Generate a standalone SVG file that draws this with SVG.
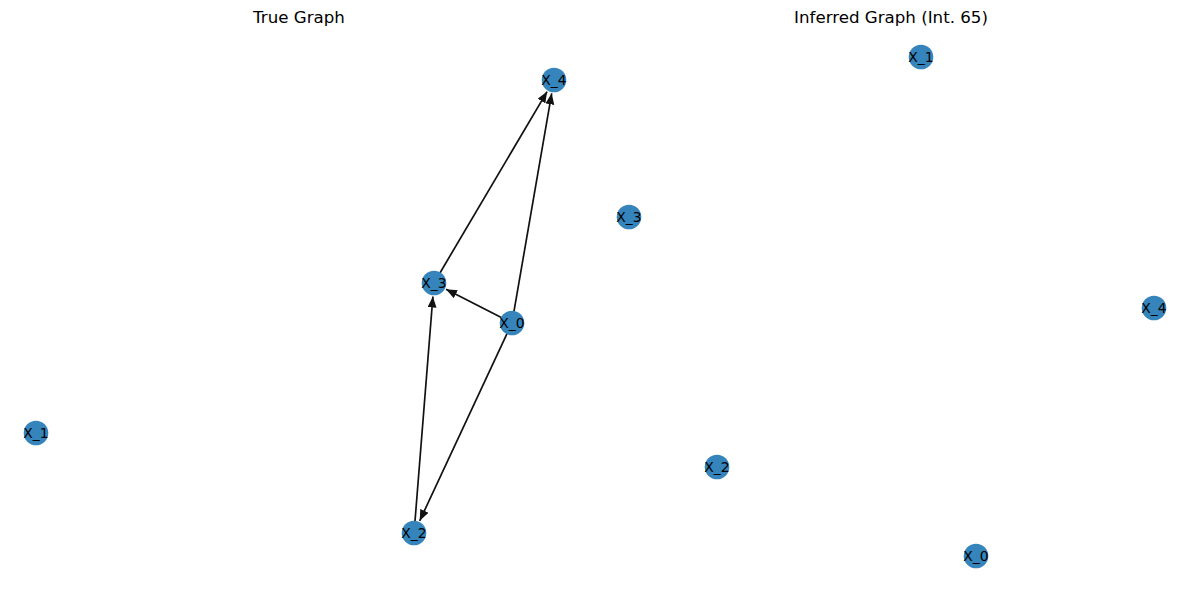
<svg xmlns="http://www.w3.org/2000/svg" width="1189" height="591" viewBox="0 0 1189 591">
<style>
.node circle{fill:#1f77b4;fill-opacity:0.9;}
.node text{font-family:"DejaVu Sans",sans-serif;font-size:13.9px;fill:#000;text-anchor:middle;dominant-baseline:central;}
.title{font-family:"DejaVu Sans",sans-serif;font-size:16.67px;fill:#000;text-anchor:middle;}
.edge{stroke:#111;stroke-width:1.7;fill:none;marker-end:url(#arrow);}
</style>
<defs>
<marker id="arrow" markerUnits="userSpaceOnUse" markerWidth="12" markerHeight="10" refX="11" refY="4.5" orient="auto">
<path d="M0,0 L11,4.5 L0,9 z" fill="#111"/>
</marker>
</defs>
<rect width="1189" height="591" fill="#fff"/>
<text class="title" x="299" y="23">True Graph</text>
<text class="title" x="891" y="23">Inferred Graph (Int. 65)</text>
<g id="connectors">
<line class="edge" x1="501.3" y1="317.5" x2="446.0" y2="289.2"/>
<line class="edge" x1="514.0" y1="311.2" x2="551.7" y2="93.3"/>
<line class="edge" x1="506.9" y1="333.9" x2="419.7" y2="520.8"/>
<line class="edge" x1="440.1" y1="272.7" x2="547.1" y2="91.6"/>
<line class="edge" x1="415.0" y1="521.0" x2="432.9" y2="296.5"/>
</g>
<g id="true-X_4" class="node"><circle cx="554" cy="80" r="12.3"/><text x="554" y="80">X_4</text></g>
<g id="true-X_3" class="node"><circle cx="434" cy="283" r="12.3"/><text x="434" y="283">X_3</text></g>
<g id="true-X_0" class="node"><circle cx="512" cy="323" r="12.3"/><text x="512" y="323">X_0</text></g>
<g id="true-X_2" class="node"><circle cx="414" cy="533" r="12.3"/><text x="414" y="533">X_2</text></g>
<g id="true-X_1" class="node"><circle cx="36" cy="433" r="12.3"/><text x="36" y="433">X_1</text></g>
<g id="inf-X_1" class="node"><circle cx="921" cy="57" r="12.3"/><text x="921" y="57">X_1</text></g>
<g id="inf-X_3" class="node"><circle cx="629" cy="217" r="12.3"/><text x="629" y="217">X_3</text></g>
<g id="inf-X_4" class="node"><circle cx="1154" cy="308" r="12.3"/><text x="1154" y="308">X_4</text></g>
<g id="inf-X_2" class="node"><circle cx="717" cy="467" r="12.3"/><text x="717" y="467">X_2</text></g>
<g id="inf-X_0" class="node"><circle cx="976" cy="556" r="12.3"/><text x="976" y="556">X_0</text></g>
</svg>
